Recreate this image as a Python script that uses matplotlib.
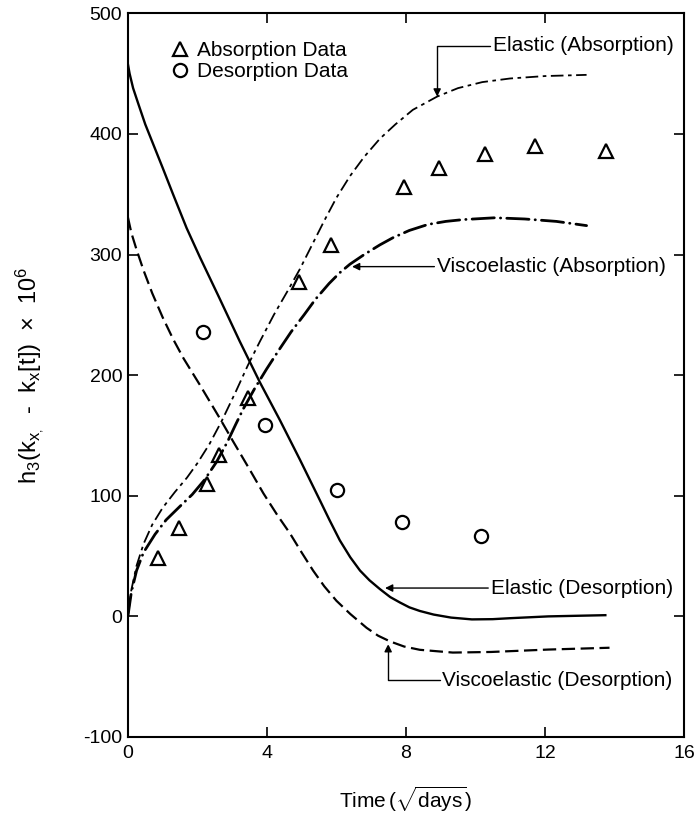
import matplotlib
matplotlib.use('Agg')
import matplotlib.pyplot as plt

plt.rcParams['font.family'] = ['Liberation Sans', 'DejaVu Sans']
plt.rcParams['axes.unicode_minus'] = False
plt.rcParams['mathtext.fontset'] = 'custom'
plt.rcParams['mathtext.rm'] = 'Liberation Sans'
plt.rcParams['mathtext.it'] = 'Liberation Sans:italic'

abs_t = [0.87, 1.47, 2.29, 2.63, 3.46, 4.93, 5.84, 7.94, 8.96, 10.28, 11.73, 13.76]
abs_h = [48, 73, 110, 134, 181, 277, 308, 356, 372, 383, 390, 386]
des_t = [2.17, 3.96, 6.03, 7.89, 10.16]
des_h = [236, 159, 105, 78, 67]

# model curves
el_abs_t = [0, 0.1, 0.25, 0.45, 0.7, 1.0, 1.35, 1.7, 2.0, 2.35, 2.7, 3.1, 3.45, 3.8,
            4.2, 4.6, 4.95, 5.3, 5.65, 6.0, 6.39, 6.8, 7.25, 7.7, 8.2, 8.9, 9.5,
            10.2, 11.0, 12.0, 13.2]
el_abs_h = [0, 22, 42, 60, 76, 90, 103, 115, 127, 143, 162, 186, 208, 228,
            250, 270, 288, 308, 328, 347, 365, 381, 396, 408, 420, 431, 438,
            443, 446, 448, 449]

ve_abs_t = [0, 0.1, 0.25, 0.45, 0.78, 1.1, 1.49, 1.85, 2.2, 2.55, 2.87, 3.1, 3.32,
            3.65, 3.99, 4.35, 4.7, 5.07, 5.4, 5.79, 6.1, 6.39, 6.8, 7.25, 7.63,
            8.1, 8.64, 9.15, 9.65, 10.56, 11.42, 12.33, 13.2]
ve_abs_h = [0, 20, 38, 53, 68, 80, 91, 101, 113, 128, 145, 159, 172,
            189, 205, 221, 236, 250, 263, 276, 285, 292, 300, 308, 314,
            320, 325, 327.5, 329, 330.5, 329.5, 327.5, 324]

el_des_t = [0, 0.05, 0.15, 0.3, 0.5, 0.75, 1.0, 1.3, 1.69, 2.07, 2.6, 3.22, 3.8,
            4.37, 4.95, 5.53, 5.8, 6.1, 6.4, 6.68, 6.95, 7.25, 7.55, 7.83, 8.1,
            8.4, 8.8, 9.3, 9.9, 10.5, 11.0, 12.1, 13.74]
el_des_h = [458, 450, 438, 425, 408, 390, 372, 350, 322, 298, 266, 228, 194,
            163, 130, 96, 80, 63, 49, 38, 30, 22.7, 16, 11.5, 7.5,
            4.5, 1.5, -1, -2.5, -2.3, -1.5, 0, 1]

ve_des_t = [0, 0.1, 0.25, 0.45, 0.7, 1.0, 1.3, 1.6, 2.07, 2.65, 3.03, 3.5, 3.9,
            4.3, 4.66, 5.0, 5.33, 5.65, 6.0, 6.4, 6.87, 7.2, 7.54, 7.95, 8.4,
            9.35, 10.45, 12.1, 13.86]
ve_des_h = [331, 318, 304, 287, 268, 248, 230, 214, 192, 164, 145, 122, 102,
            84, 69, 53, 38, 25, 13, 2, -9.5, -16, -20.7, -25, -27.7,
            -30, -29.5, -27.5, -26]

fig = plt.figure(figsize=(6.95, 8.14), dpi=100)
ax = fig.add_axes([0.184, 0.0946, 0.800, 0.889])

ax.plot(el_abs_t, el_abs_h, color='black', lw=1.3, ls=(0, (7, 2.5, 2, 2.5)))
ax.plot(ve_abs_t, ve_abs_h, color='black', lw=2.0, ls=(0, (8, 2.2, 0.1, 2.2)),
        dash_capstyle='round')
ax.plot(el_des_t, el_des_h, color='black', lw=1.7)
ax.plot(ve_des_t, ve_des_h, color='black', lw=1.6, ls=(0, (6, 2.5)))

tri, = ax.plot(abs_t, abs_h, ls='none', marker='^', ms=10.5, mfc='none',
               mec='black', mew=1.6, label='Absorption Data')
circ, = ax.plot(des_t, des_h, ls='none', marker='o', ms=9.5, mfc='none',
                mec='black', mew=1.6, label='Desorption Data')

ax.legend(handles=[tri, circ], loc='upper left', bbox_to_anchor=(0.063, 0.973),
          frameon=False, fontsize=15, handlelength=0.8, handletextpad=0.45,
          labelspacing=0.1, borderaxespad=0)

arrow = dict(arrowstyle='-|>', lw=1.0, color='black', mutation_scale=11,
             shrinkA=0, shrinkB=0, relpos=(0, 0.5))
elbow = dict(arrow, connectionstyle='angle,angleA=0,angleB=90,rad=0')

ax.annotate('Elastic (Absorption)', xy=(8.9, 431), xytext=(10.5, 473),
            ha='left', va='center', fontsize=15, arrowprops=elbow)
ax.annotate('Viscoelastic (Absorption)', xy=(6.45, 290), xytext=(8.9, 290),
            ha='left', va='center', fontsize=15, arrowprops=arrow)
ax.annotate('Elastic (Desorption)', xy=(7.4, 23.5), xytext=(10.45, 23.5),
            ha='left', va='center', fontsize=15, arrowprops=arrow)
ax.annotate('Viscoelastic (Desorption)', xy=(7.49, -23), xytext=(9.05, -53),
            ha='left', va='center', fontsize=15, arrowprops=elbow)

ax.set_xlim(0, 16)
ax.set_ylim(-100, 500)
ax.set_xticks([0, 4, 8, 12, 16])
ax.set_yticks(range(-100, 501, 100))
ax.tick_params(direction='in', top=True, right=True, length=7, width=1.2,
               labelsize=14)
ax.tick_params(axis='x', pad=6)
ax.tick_params(axis='y', pad=4)
for s in ax.spines.values():
    s.set_linewidth(1.5)

ax.set_xlabel(r'Time$\mathregular{\,(\sqrt{days})}$', fontsize=15)
ax.xaxis.set_label_coords(0.5, -0.066)
ax.set_ylabel(r'h$_\mathregular{3}$(k$_\mathregular{x_,}$  -  k$_\mathregular{x}$[t])'
              r'  $\mathregular{\times}$  10$^\mathregular{6}$', fontsize=17)
ax.yaxis.set_label_coords(-0.145, 0.5)

fig.savefig('out.png', dpi=100)
